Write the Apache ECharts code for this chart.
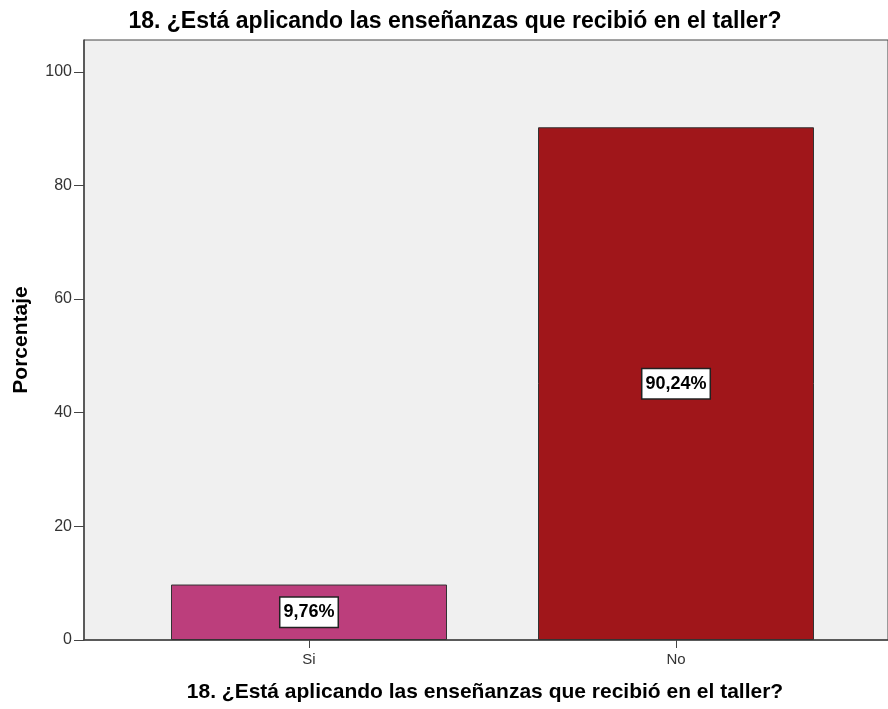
<!DOCTYPE html>
<html>
<head>
<meta charset="utf-8">
<script src="https://cdn.jsdelivr.net/npm/echarts@6/dist/echarts.min.js"></script>
<style>
  html, body { margin: 0; padding: 0; background: #ffffff; }
  #chart { width: 888px; height: 709px; }
</style>
</head>
<body>
<div id="chart"></div>
<script>
// Responses to question 18 (percent of respondents)
const categories = ['Si', 'No'];
const percentages = [9.76, 90.24];
const barColors = ['#BC3E7C', '#A0161A'];
const yTicks = [0, 20, 40, 60, 80, 100];

const questionText = '18. ¿Está aplicando las enseñanzas que recibió en el taller?';
const fontFamily = 'Liberation Sans, Arial, sans-serif';

const chart = echarts.init(document.getElementById('chart'));

const option = {
  animation: false,
  title: [
    {
      text: questionText,
      left: 450,
      top: 5,
      textAlign: 'center',
      textStyle: { fontFamily, fontSize: 23, fontWeight: 'bold', color: '#000' }
    },
    {
      text: questionText,
      left: 480,
      top: 677,
      textAlign: 'center',
      textStyle: { fontFamily, fontSize: 21, fontWeight: 'bold', color: '#000' }
    }
  ],
  grid: [
    // frame with background and the value axis
    { left: 84, right: -2, top: 40, bottom: 69, show: true, backgroundColor: '#F0F0F0', borderColor: '#444', borderWidth: 1 },
    // bar area
    { left: 125.5, right: 28.5, top: 40, bottom: 69 }
  ],
  xAxis: [
    {
      gridIndex: 0, type: 'value', min: 0, max: 1,
      axisLine: { show: true, lineStyle: { color: '#444', width: 1.5 } },
      axisTick: { show: false }, axisLabel: { show: false }, splitLine: { show: false }
    },
    {
      gridIndex: 1, type: 'category', data: categories,
      axisLine: { show: false },
      axisTick: { show: true, alignWithLabel: true, length: 8, lineStyle: { color: '#444' } },
      axisLabel: { fontFamily, fontSize: 15, color: '#333', margin: 12 }
    }
  ],
  yAxis: [
    {
      gridIndex: 0, type: 'value', min: 0, max: 105.6, interval: 20,
      name: 'Porcentaje', nameLocation: 'middle', nameGap: 52, nameRotate: 90,
      nameTextStyle: { fontFamily, fontSize: 21, fontWeight: 'bold', color: '#000' },
      axisLine: { show: true, lineStyle: { color: '#444', width: 1.5 } },
      axisTick: { show: true, length: 10, lineStyle: { color: '#444' } },
      axisLabel: {
        fontFamily, fontSize: 16, color: '#333', margin: 12,
        showMaxLabel: false,
        formatter: v => (yTicks.includes(v) ? String(v) : '')
      },
      splitLine: { show: false }
    },
    {
      gridIndex: 1, type: 'value', min: 0, max: 105.6, show: false
    }
  ],
  series: [
    {
      type: 'bar',
      xAxisIndex: 1, yAxisIndex: 1,
      barWidth: 276,
      data: percentages.map((v, i) => ({
        value: v,
        itemStyle: { color: barColors[i], borderColor: '#333', borderWidth: 1 }
      })),
      label: {
        show: true,
        position: 'inside',
        formatter: p => p.value.toFixed(2).replace('.', ',') + '%',
        fontFamily, fontSize: 18, fontWeight: 'bold', color: '#000',
        backgroundColor: '#fff', borderColor: '#222', borderWidth: 1.5,
        padding: [6, 3, 5, 3]
      }
    }
  ]
};

chart.setOption(option);
</script>
</body>
</html>
